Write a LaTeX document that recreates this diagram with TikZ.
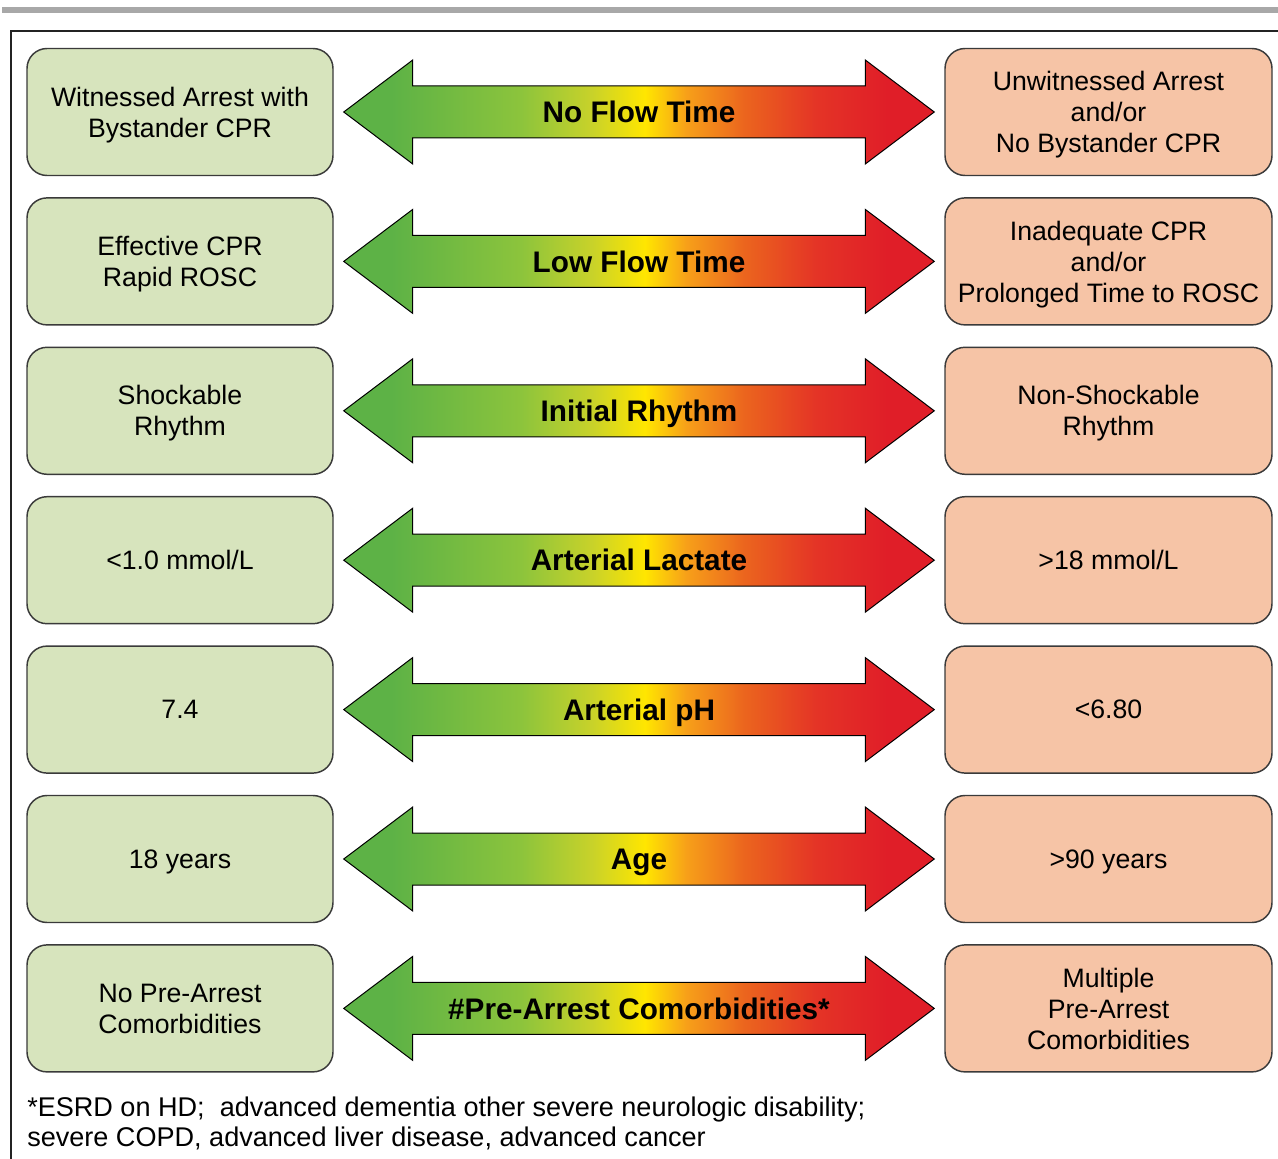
\documentclass[tikz,border=0pt]{standalone}
\usepackage{fontspec}
\setmainfont{Liberation Sans}
\usetikzlibrary{positioning,calc}
\definecolor{boxgreen}{HTML}{D7E4BD}
\definecolor{boxpeach}{HTML}{F6C4A6}
\definecolor{edgegrey}{HTML}{3A3A3A}
\definecolor{bargrey}{HTML}{A8A8A8}
\definecolor{framedark}{HTML}{232323}
\definecolor{sgreen}{HTML}{5DB246}
\definecolor{sgreenb}{HTML}{8CC43C}
\definecolor{slime}{HTML}{C8D22A}
\definecolor{syellow}{HTML}{FFE600}
\definecolor{sorange}{HTML}{F7A019}
\definecolor{sorred}{HTML}{EB641E}
\definecolor{sredb}{HTML}{E43426}
\definecolor{sred}{HTML}{E01E28}
\pgfdeclarehorizontalshading{flowshade}{100bp}{color(0bp)=(sgreen); color(29bp)=(sgreen);
  color(40bp)=(sgreenb); color(46bp)=(slime); color(50.5bp)=(syellow); color(54bp)=(sorange);
  color(59bp)=(sorred); color(65bp)=(sredb); color(71bp)=(sred); color(100bp)=(sred)}
\tikzset{
  good/.style={draw=edgegrey,fill=boxgreen,line width=1.1pt,rounded corners=15pt,align=center,
               minimum width=229.5pt,minimum height=95.25pt,inner sep=2pt,text depth=0pt,
               font=\fontsize{20}{23.25}\selectfont},
  bad/.style={good,fill=boxpeach,minimum width=245.25pt},
  flow/.style={draw=black,line width=0.75pt,shading=flowshade},
  lab/.style={font=\fontsize{22.3}{26}\selectfont\bfseries,inner sep=0pt,text depth=0pt},
  foot/.style={font=\fontsize{20.3}{22.5}\selectfont,align=left,inner sep=0pt},
  frame/.style={draw=framedark,line width=1.8pt},
}
\begin{document}
\begin{tikzpicture}[x=0.75pt,y=-0.75pt]
  \useasboundingbox (0,0) rectangle (1278,1159);
  \fill[bargrey] (2,7) rectangle (1278,13);
  \draw[frame] (1278,31) -- (11,31) -- (11,1159);
  \foreach \i/\lft/\lb/\rgt in {
      1/{Witnessed Arrest with\\Bystander CPR}/{No Flow Time}/{Unwitnessed Arrest\\and/or\\No Bystander CPR},
      2/{Effective CPR\\Rapid ROSC}/{Low Flow Time}/{Inadequate CPR\\and/or\\Prolonged Time to ROSC},
      3/{Shockable\\Rhythm}/{Initial Rhythm}/{Non-Shockable\\Rhythm},
      4/{<1.0 mmol/L}/{Arterial Lactate}/{>18 mmol/L},
      5/{7.4}/{Arterial pH}/{<6.80},
      6/{18 years}/{Age}/{>90 years},
      7/{No Pre-Arrest\\Comorbidities}/{\#Pre-Arrest Comorbidities*}/{Multiple\\Pre-Arrest\\Comorbidities}}
  {
    \pgfmathsetmacro\ry{112+149.4*(\i-1)}
    \node[good] (l\i) at (180,\ry) {\lft};
    \node[bad] (r\i) at (1108.5,\ry) {\rgt};
    \coordinate (a\i) at ([xshift=7.5pt]l\i.east);
    \coordinate (b\i) at ([xshift=-7.5pt]r\i.west);
    \shade[flow] (a\i) -- ++(69,-52) -- ++(0,26) -- ($(b\i)+(-69,-26)$) -- ++(0,-26) -- (b\i)
      -- ++(-69,52) -- ++(0,-26) -- ($(a\i)+(69,26)$) -- ++(0,26) -- cycle;
    \node[lab] (m\i) at ($(a\i)!0.5!(b\i)$) {\lb};
  }
  \node[foot,anchor=north west] (fn) at (27,1097)
    {*ESRD on HD;~ advanced dementia other severe neurologic disability;\\
     severe COPD, advanced liver disease, advanced cancer};
\end{tikzpicture}
\end{document}
